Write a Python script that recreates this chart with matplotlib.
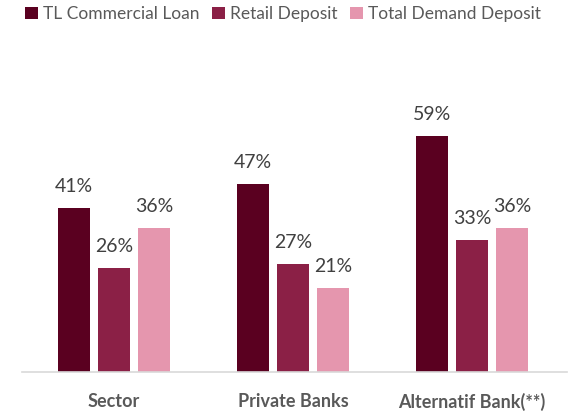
import matplotlib.pyplot as plt
import numpy as np

categories = ["Sector", "Private Banks", "Alternatif Bank(**)"]
series_names = ["TL Commercial Loan", "Retail Deposit", "Total Demand Deposit"]
loan = [41, 47, 59]
retail = [26, 27, 33]
demand = [36, 21, 36]
colors = ["#5a0020", "#8b2046", "#e596ae"]

plt.rcParams['font.family'] = ['Lato', 'DejaVu Sans']
fig = plt.figure(figsize=(5.79, 4.12), dpi=100)
ax = fig.add_axes([22/579, 1-372/412, 545/579, 332/412])

x = np.arange(len(categories))
w = 0.179
step = 0.223
for i, (vals, name, c) in enumerate(zip([loan, retail, demand], series_names, colors)):
    pos = x + (i - 1) * step
    ax.bar(pos, vals, w, color=c, label=name)
    for p, v in zip(pos, vals):
        ax.text(p, v + 3.2, f"{v}%", ha='center', va='bottom', fontsize=14, color='#404040')

ax.set_xlim(-0.514, 2.53)
ax.set_ylim(0, 83)
ax.set_yticks([])
ax.set_xticks(x)
ax.set_xticklabels(categories, fontsize=13, fontweight='bold', color='#595959')
ax.tick_params(axis='x', length=0, pad=15)
for s in ['top', 'right', 'left']:
    ax.spines[s].set_visible(False)
ax.spines['bottom'].set_color('#d9d9d9')
ax.spines['bottom'].set_linewidth(1.2)

fig.legend(loc='upper left', bbox_to_anchor=(0.022, 1.015), ncol=3, frameon=False,
           fontsize=12.5, handlelength=0.75, handleheight=0.75, handletextpad=0.3,
           columnspacing=0.7, labelcolor='#595959', borderaxespad=0.3)

fig.savefig('out.png', dpi=100)
